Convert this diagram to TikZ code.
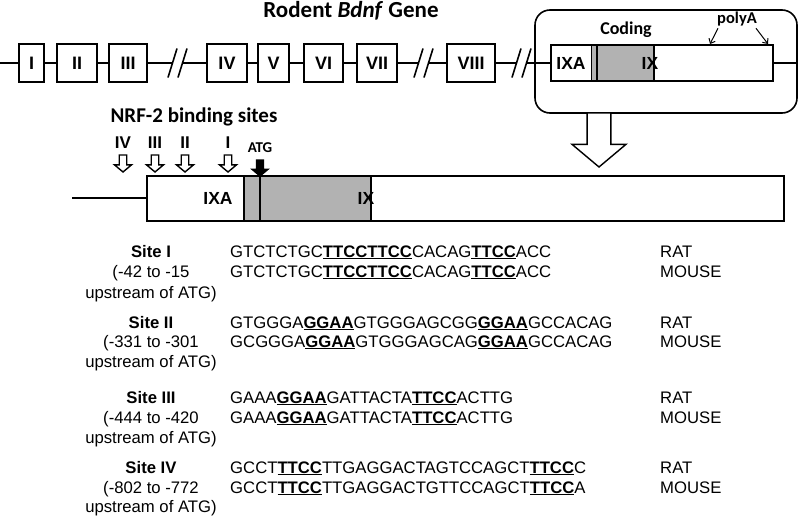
\documentclass[tikz,border=0pt]{standalone}
\usepackage{fontspec}
\setmainfont{Liberation Sans}
\newfontfamily\calibri{Carlito}
\usetikzlibrary{arrows.meta}

\definecolor{cdsgrey}{RGB}{178,178,178}
\newcommand{\motif}[1]{\underline{\textbf{#1}}}

\tikzset{
  openarrow/.pic={
    \draw[line width=1.4pt, pic actions] (-0.22,0) -- (-0.22,0.58) -- (-0.5,0.58) -- (0,1) -- (0.5,0.58) -- (0.22,0.58) -- (0.22,0) -- cycle;
  },
  gap/.pic={
    \draw[line width=1.6pt] (-9.5,14.5) -- (-0.5,-14.5) (0.5,14.5) -- (9.5,-14.5);
    \coordinate (-l) at (-5,0);
    \coordinate (-r) at (5,0);
  }
}

\begin{document}
\begin{tikzpicture}[x=1pt, y=-1pt,
  gene/.style={line width=1.6pt},
  exon/.style={draw, gene, fill=white, minimum height=38pt, inner sep=0pt, font=\fontsize{18}{20}\selectfont\bfseries},
  bold label/.style={inner sep=0pt, font=\calibri\fontsize{#1}{#1}\selectfont\bfseries},
  tip/.style={line width=1pt, -{Straight Barb[length=4pt, width=7pt]}},
  seq/.style={anchor=base west, inner sep=0pt, font=\fontsize{16.7}{20}\selectfont},
  lbl/.style={anchor=base, inner sep=0pt, font=\fontsize{16.7}{20}\selectfont}
]
\useasboundingbox (0,0) rectangle (800,517);

\node[bold label=23] (title) at (351,11) {Rodent \textit{Bdnf} Gene};

\node[exon, minimum width=25pt] (e1) at (31.5,63) {I};
\node[exon, minimum width=40pt] (e2) at (77,63) {II};
\node[exon, minimum width=38pt] (e3) at (128,63) {III};
\node[exon, minimum width=40pt] (e4) at (227,63) {IV};
\node[exon, minimum width=31pt] (e5) at (273.5,63) {V};
\node[exon, minimum width=39pt] (e6) at (323.5,63) {VI};
\node[exon, minimum width=40pt] (e7) at (377,63) {VII};
\node[exon, minimum width=48pt] (e8) at (471,63) {VIII};

\pic (g1) at (177.5,63) {gap};
\pic (g2) at (423.5,63) {gap};
\pic (g3) at (521.5,63) {gap};

\node[draw, gene, rounded corners=15pt, minimum width=262pt, minimum height=103pt] (exp) at (666,61.5) {};

\fill[cdsgrey] (591,45) rectangle (654,81);
\node[draw, gene, minimum width=222pt, minimum height=36pt] (ix) at (662,63) {};
\draw[line width=1pt] (591,45) -- (591,81);
\draw[gene] (597,45) -- (597,81);
\draw[gene] (654,45) -- (654,81);
\node[inner sep=0pt, font=\fontsize{17.5}{20}\selectfont\bfseries] (ixa) at (571,63) {IXA};
\node[inner sep=0pt, font=\fontsize{17.5}{20}\selectfont\bfseries] (ixl) at (650,63) {IX};

\coordinate (start) at (0,63);
\draw[gene] (start) -- (e1) (e1) -- (e2) (e2) -- (e3) (e3) -- (g1-l)
  (g1-r) -- (e4) (e4) -- (e5) (e5) -- (e6) (e6) -- (e7) (e7) -- (g2-l)
  (g2-r) -- (e8) (e8) -- (g3-l) (g3-r) -- (g3-r -| ix.west)
  (ix) -- (ix -| exp.east);

\node[bold label=18] (coding) at (626,30) {Coding};
\node[bold label=16.5] (pa) at (737,19) {polyA};
\coordinate (pa1) at (710,44);
\coordinate (pa2) at (768,44);
\draw[tip] ([shift={(1,2)}]pa.south west) -- (pa1);
\draw[tip] ([shift={(-1,2)}]pa.south east) -- (pa2);

\pic[fill=white, scale=54] (down) at (599,113) {openarrow};

\fill[cdsgrey] (244,176) rectangle (371,221);
\node[draw, gene, minimum width=637pt, minimum height=45pt] (ix2) at (465.5,198.5) {};
\draw[gene] (244,176) -- (244,221);
\draw[gene] (260,176) -- (260,221);
\draw[gene] (371,176) -- (371,221);
\coordinate (start2) at (72,198);
\draw[gene] (start2) -- (start2 -| ix2.west);
\node[inner sep=0pt, font=\fontsize{17.5}{20}\selectfont\bfseries] (ixa2) at (218,198.5) {IXA};
\node[inner sep=0pt, font=\fontsize{17.5}{20}\selectfont\bfseries] (ixl2) at (366,198.5) {IX};

\node[bold label=21] (nrf) at (194,117) {NRF-2 binding sites};
\foreach \x/\t in {123/IV, 155/III, 185/II, 228/I} {
  \node[inner sep=0pt, font=\fontsize{17}{20}\selectfont\bfseries] (nrf\t) at (\x,143) {\t};
  \pic[fill=white, scale=17] at (\x,155) {openarrow};
}
\node[bold label=15] (atg) at (260,148) {ATG};
\pic[fill=black, scale=16] at (260,160) {openarrow};

\foreach \n/\ya/\yb/\yc/\range in {I/257/277/298/{-42 to -15}, II/328/347/367/{-331 to -301}, III/403/423/443/{-444 to -420}, IV/473/493/512/{-802 to -772}} {
  \node[lbl, font=\fontsize{16.7}{20}\selectfont\bfseries] (site\n) at (151,\ya) {Site \n};
  \node[lbl] (range\n) at (151,\yb) {(\range};
  \node[lbl] (up\n) at (151,\yc) {upstream of ATG)};
  \node[seq] (rat\n) at (660,\ya) {RAT};
  \node[seq] (mouse\n) at (660,\yb) {MOUSE};
}

\node[seq] (seqratI) at (230,257) {GTCTCTGC\motif{TTCCTTCC}CACAG\motif{TTCC}ACC};
\node[seq] (seqmouseI) at (230,277) {GTCTCTGC\motif{TTCCTTCC}CACAG\motif{TTCC}ACC};
\node[seq] (seqratII) at (230,328) {GTGGGA\motif{GGAA}GTGGGAGCGG\motif{GGAA}GCCACAG};
\node[seq] (seqmouseII) at (230,347) {GCGGGA\motif{GGAA}GTGGGAGCAG\motif{GGAA}GCCACAG};
\node[seq] (seqratIII) at (230,403) {GAAA\motif{GGAA}GATTACTA\motif{TTCC}ACTTG};
\node[seq] (seqmouseIII) at (230,423) {GAAA\motif{GGAA}GATTACTA\motif{TTCC}ACTTG};
\node[seq] (seqratIV) at (230,473) {GCCT\motif{TTCC}TTGAGGACTAGTCCAGCT\motif{TTCC}C};
\node[seq] (seqmouseIV) at (230,493) {GCCT\motif{TTCC}TTGAGGACTGTTCCAGCT\motif{TTCC}A};

\end{tikzpicture}
\end{document}
